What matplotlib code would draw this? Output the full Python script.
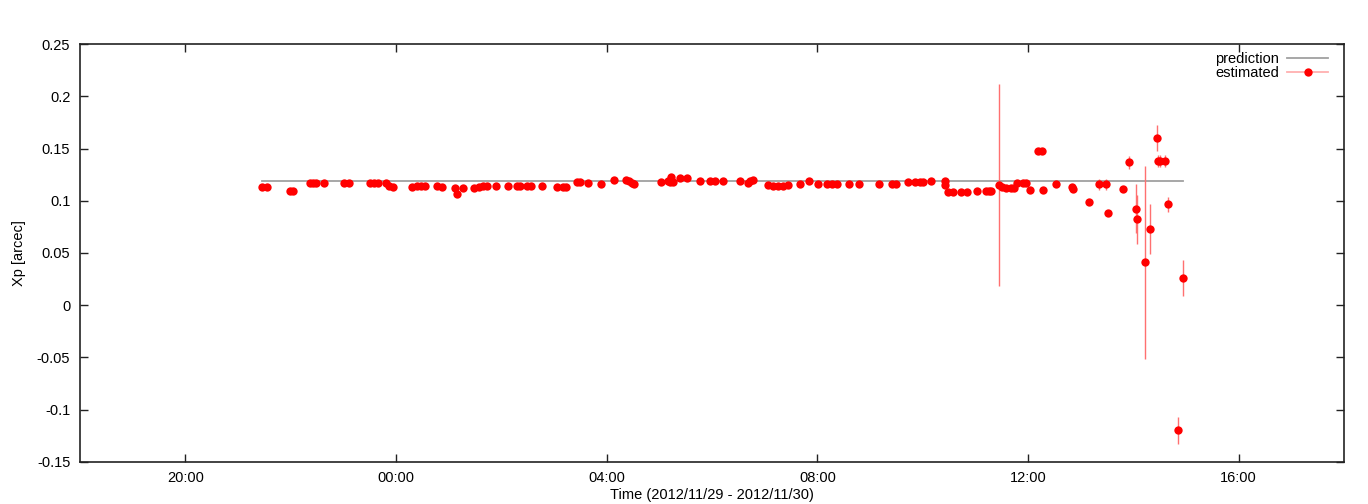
import pandas as pd
import matplotlib
matplotlib.use("Agg")
import matplotlib.pyplot as plt
import matplotlib.dates as mdates
from matplotlib.lines import Line2D
from matplotlib.ticker import FuncFormatter

plt.rcParams["font.family"] = ["Liberation Sans", "DejaVu Sans"]
plt.rcParams["axes.unicode_minus"] = False

# 观测时刻 (自 2012-11-29 00:00 起的小时数)
hours = [
    21.46, 21.56, 21.99, 22.04, 22.37, 22.43, 22.49, 22.63, 23.02, 23.10,
    23.51, 23.58, 23.66, 23.81, 23.87, 23.94, 24.31, 24.39, 24.47, 24.56,
    24.78, 24.88, 25.12, 25.15, 25.28, 25.48, 25.58, 25.66, 25.73, 25.89,
    26.12, 26.30, 26.35, 26.49, 26.56, 26.77, 27.05, 27.18, 27.23, 27.44,
    27.49, 27.65, 27.89, 28.14, 28.37, 28.43, 28.49, 28.52, 29.04, 29.16,
    29.20, 29.23, 29.25, 29.39, 29.52, 29.78, 29.96, 30.06, 30.21, 30.53,
    30.69, 30.73, 30.78, 31.07, 31.16, 31.26, 31.35, 31.44, 31.68, 31.84,
    32.01, 32.18, 32.27, 32.37, 32.60, 32.80, 33.17, 33.41, 33.49, 33.73,
    33.85, 33.95, 34.01, 34.16, 34.42, 34.43, 34.49, 34.57, 34.72, 34.85,
    35.04, 35.20, 35.25, 35.29, 35.44, 35.51, 35.58, 35.67, 35.73, 35.80,
    35.91, 35.97, 36.04, 36.19, 36.26, 36.29, 36.53, 36.84, 36.85, 37.15,
    37.35, 37.49, 37.51, 37.80, 37.92, 38.06, 38.07, 38.22, 38.32, 38.44,
    38.46, 38.51, 38.60, 38.65, 38.85, 38.94,
]

# 估计值 Xp [arcsec]
xp = [
    0.1134, 0.1134, 0.1096, 0.1094, 0.1170, 0.1170, 0.1170, 0.1170, 0.1170, 0.1170,
    0.1170, 0.1170, 0.1170, 0.1170, 0.1140, 0.1128, 0.1134, 0.1138, 0.1140, 0.1140,
    0.1138, 0.1134, 0.1120, 0.1067, 0.1119, 0.1122, 0.1134, 0.1138, 0.1145, 0.1138,
    0.1138, 0.1138, 0.1138, 0.1141, 0.1141, 0.1141, 0.1134, 0.1134, 0.1130, 0.1176,
    0.1176, 0.1167, 0.1160, 0.1195, 0.1195, 0.1192, 0.1173, 0.1157, 0.1180, 0.1186,
    0.1183, 0.1224, 0.1180, 0.1220, 0.1220, 0.1189, 0.1192, 0.1192, 0.1192, 0.1186,
    0.1167, 0.1190, 0.1200, 0.1147, 0.1144, 0.1141, 0.1144, 0.1150, 0.1157, 0.1186,
    0.1157, 0.1157, 0.1157, 0.1157, 0.1157, 0.1157, 0.1157, 0.1157, 0.1157, 0.1180,
    0.1180, 0.1180, 0.1180, 0.1186, 0.1190, 0.1150, 0.1083, 0.1083, 0.1083, 0.1083,
    0.1093, 0.1093, 0.1093, 0.1093, 0.1150, 0.1128, 0.1119, 0.1119, 0.1119, 0.1173,
    0.1173, 0.1173, 0.1102, 0.1477, 0.1477, 0.1102, 0.1157, 0.1134, 0.1115, 0.0990,
    0.1157, 0.1157, 0.0879, 0.1109, 0.1368, 0.0922, 0.0822, 0.0412, 0.0731, 0.1604,
    0.1383, 0.1383, 0.1383, 0.0965, -0.1200, 0.0260,
]

# 误差 (1 sigma)
xp_err = [
    0.002, 0.002, 0.002, 0.002, 0.002, 0.002, 0.002, 0.002, 0.002, 0.002,
    0.002, 0.002, 0.002, 0.002, 0.002, 0.002, 0.002, 0.002, 0.002, 0.002,
    0.002, 0.002, 0.002, 0.002, 0.002, 0.002, 0.002, 0.002, 0.002, 0.002,
    0.002, 0.002, 0.002, 0.002, 0.002, 0.002, 0.002, 0.002, 0.002, 0.002,
    0.002, 0.002, 0.002, 0.002, 0.002, 0.002, 0.002, 0.002, 0.002, 0.002,
    0.002, 0.002, 0.002, 0.002, 0.002, 0.002, 0.002, 0.002, 0.002, 0.002,
    0.002, 0.002, 0.002, 0.002, 0.002, 0.002, 0.002, 0.002, 0.002, 0.002,
    0.002, 0.002, 0.002, 0.002, 0.002, 0.002, 0.002, 0.002, 0.002, 0.002,
    0.002, 0.002, 0.002, 0.002, 0.002, 0.002, 0.002, 0.002, 0.002, 0.002,
    0.002, 0.002, 0.002, 0.002, 0.097, 0.002, 0.002, 0.002, 0.002, 0.002,
    0.002, 0.002, 0.002, 0.002, 0.002, 0.002, 0.002, 0.002, 0.002, 0.002,
    0.005, 0.005, 0.002, 0.002, 0.006, 0.0235, 0.0232, 0.0924, 0.0237, 0.0123,
    0.006, 0.006, 0.006, 0.0073, 0.0128, 0.0171,
]

# 预测值
pred_hours = [21.46, 38.94]
pred_xp = [0.1186, 0.1186]

t0 = pd.Timestamp("2012-11-29 00:00")
t = t0 + pd.to_timedelta(hours, unit="h")
t_pred = t0 + pd.to_timedelta(pred_hours, unit="h")

FS = 10.5

fig = plt.figure(figsize=(13.68, 5.04), dpi=100)
ax = fig.add_axes([80 / 1368, 1 - 461.7 / 504, 1264 / 1368, 417.4 / 504])

ax.plot(t_pred, pred_xp, color="#a0a0a0", linewidth=1.3, zorder=2)
ax.errorbar(
    t, xp, yerr=xp_err,
    fmt="none", ecolor="#ff7070", elinewidth=1.0, capsize=0, zorder=3,
)
ax.plot(t, xp, "o", color="#ff0000", markersize=6.0, markeredgewidth=0, zorder=4)

ax.set_xlim(pd.Timestamp("2012-11-29 18:00"), pd.Timestamp("2012-11-30 18:00"))
ax.set_ylim(-0.15, 0.25)
ax.set_yticks([-0.15, -0.1, -0.05, 0, 0.05, 0.1, 0.15, 0.2, 0.25])
ax.yaxis.set_major_formatter(FuncFormatter(lambda v, p: "%g" % round(v, 4)))
ax.xaxis.set_major_locator(mdates.HourLocator(byhour=[0, 4, 8, 12, 16, 20]))
ax.xaxis.set_major_formatter(mdates.DateFormatter("%H:%M"))

ax.tick_params(direction="in", length=6, width=1, top=True, right=True,
               labelsize=FS, pad=7, color="#222222")
for s in ax.spines.values():
    s.set_linewidth(1.2)
    s.set_color("#222222")

ax.set_xlabel("Time (2012/11/29 - 2012/11/30)", fontsize=FS, labelpad=2)
ax.set_ylabel("Xp [arcec]", fontsize=FS, labelpad=8)

handles = [
    Line2D([], [], color="#a0a0a0", linewidth=1.3),
    Line2D([], [], color="#ffb0b0", linewidth=1.3, marker="o",
           markerfacecolor="#ff0000", markeredgewidth=0, markersize=6.0),
]
ax.legend(
    handles, ["prediction", "estimated"],
    loc="upper right", bbox_to_anchor=(1328 / 1368, 1 - 52 / 504),
    bbox_transform=fig.transFigure, frameon=False, markerfirst=False,
    fontsize=FS, handlelength=2.8, handletextpad=0.55,
    labelspacing=0.02, borderpad=0, borderaxespad=0,
)

fig.savefig("out.png", dpi=100)
